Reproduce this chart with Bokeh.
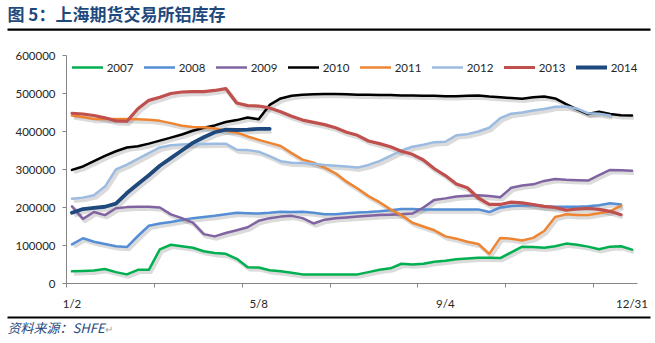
from bokeh.plotting import figure
from bokeh.models import (Range1d, FixedTicker, NumeralTickFormatter, Legend, LegendItem, LinearAxis)
from bokeh.core.properties import value
from bokeh.embed import file_html
from bokeh.resources import INLINE

# ---------------- data (thousand-ton values) ----------------
years = ["2007", "2008", "2009", "2010", "2011", "2012", "2013", "2014"]
x_labels = {0: "1/2", 17: "5/8", 34: "9/4", 51: "12/31"}
title_text = "图 5：上海期货交易所铝库存"
source_text = "资料来源：SHFE"

s2007 = [32, 33, 34, 38, 30, 24, 36, 36, 90, 102, 98, 94, 85, 80, 78, 65, 43, 42, 35, 32,
         28, 24, 24, 24, 24, 24, 24, 30, 36, 40, 52, 50, 52, 57, 60, 64, 66, 68, 68, 67,
         82, 97, 96, 94, 98, 105, 102, 97, 90, 97, 98, 89]
s2008 = [103, 119, 110, 104, 98, 96, 125, 152, 158, 162, 167, 172, 175, 178, 182, 186, 185, 184, 186, 189,
         188, 189, 186, 182, 182, 185, 187, 188, 190, 193, 196, 196, 195, 195, 195, 195, 195, 195, 188, 200,
         204, 205, 205, 203, 202, 202, 202, 203, 206, 211, 208]
s2009 = [203, 170, 188, 180, 198, 201, 202, 202, 200, 182, 172, 160, 130, 124, 133, 140, 148, 165, 172, 176,
         178, 172, 158, 168, 172, 174, 176, 178, 180, 181, 182, 184, 200, 220, 224, 229, 231, 232, 230, 227,
         252, 258, 261, 270, 275, 273, 272, 271, 285, 299, 298, 297]
s2010 = [299, 308, 322, 336, 348, 358, 361, 368, 376, 384, 392, 402, 410, 416, 425, 430, 437, 432, 470, 487,
         494, 497, 498, 499, 499, 498, 497, 497, 496, 496, 495, 495, 494, 494, 493, 493, 494, 495, 492, 490,
         488, 486, 490, 492, 487, 472, 458, 446, 452, 446, 443, 442]
s2011 = [442, 438, 433, 433, 433, 433, 432, 431, 428, 422, 415, 412, 411, 408, 402, 397, 387, 378, 370, 362,
         343, 326, 318, 305, 290, 268, 250, 230, 214, 195, 180, 160, 150, 140, 124, 118, 110, 104, 78, 120,
         118, 113, 120, 138, 175, 182, 180, 180, 185, 190, 205]
s2012 = [223, 226, 232, 255, 300, 313, 328, 343, 358, 364, 366, 367, 367, 368, 368, 352, 351, 347, 335, 322,
         318, 317, 315, 312, 310, 308, 305, 312, 322, 336, 350, 360, 365, 372, 373, 390, 393, 400, 410, 435,
         447, 450, 455, 459, 465, 466, 460, 448, 447, 442]
s2013 = [448, 446, 442, 436, 428, 427, 460, 482, 490, 500, 504, 505, 505, 508, 513, 475, 468, 467, 462, 452,
         440, 430, 424, 418, 410, 398, 390, 375, 368, 360, 348, 340, 325, 302, 284, 262, 252, 225, 208, 208,
         214, 212, 208, 203, 200, 193, 196, 198, 195, 190, 181]
s2014 = [186, 196, 199, 202, 210, 238, 262, 285, 310, 330, 350, 370, 385, 398, 405, 404, 405, 407, 407]

series = [s2007, s2008, s2009, s2010, s2011, s2012, s2013, s2014]
colors = ["#00B050", "#558ED5", "#8064A2", "#000000", "#EE8533", "#9BBBE0", "#C0504D", "#1F497D"]
widths = [2.5, 2.5, 2.5, 2.5, 2.5, 2.5, 3.2, 3.8]

FONT = "Lato"
CJK = "Noto Sans CJK SC"
W, H = 655, 343

# plot-area geometry (pixels): category axis from x=66 to 637, value axis from y=283 (0) to y=55 (600000)
PX_L, PX_R, PY_B, PY_T = 66.0, 637.0, 283.0, 55.0
kx = (PX_R - PX_L) / 52.0
ky = 600000.0 / (PY_B - PY_T)
x0 = -0.5 - PX_L / kx
x1 = 51.5 + (W - PX_R) / kx
y0 = -(H - PY_B) * ky
y1 = 600000 + PY_T * ky


def fx(px):
    return x0 + px / kx


def fy(py):
    return y1 - py * ky


p = figure(width=W, height=H, output_backend="svg", toolbar_location=None, title=None,
           x_axis_type=None, y_axis_type=None,
           x_range=Range1d(x0, x1), y_range=Range1d(y0, y1),
           min_border_left=0, min_border_right=0, min_border_top=0, min_border_bottom=0)
p.outline_line_color = None
p.xgrid.visible = False
p.ygrid.visible = False
p.background_fill_color = "white"

# shadows
for s, w in zip(series, widths):
    xs = [i + 0.18 for i in range(len(s))]
    ys = [v * 1000 - 2.3 * ky for v in s]
    p.line(xs, ys, line_color="#000000", line_alpha=0.14, line_width=w + 1.5, line_join="round")

renderers = []
for s, c, w in zip(series, colors, widths):
    xs = list(range(len(s)))
    ys = [v * 1000 for v in s]
    renderers.append(p.line(xs, ys, line_color=c, line_width=w, line_join="round", line_cap="round"))

# axes at fixed locations inside the full-canvas frame
yax = LinearAxis(fixed_location=-0.5, bounds=(0, 600000))
yax.ticker = FixedTicker(ticks=[0, 100000, 200000, 300000, 400000, 500000, 600000])
yax.formatter = NumeralTickFormatter(format="0")
yax.axis_line_color = "#868686"
yax.major_tick_line_color = "#868686"
yax.major_tick_out = 4
yax.major_tick_in = 0
yax.minor_tick_line_color = None
yax.major_label_text_font = FONT
yax.major_label_text_font_size = "11.5px"
yax.major_label_text_color = "#262626"
yax.major_label_standoff = 7
p.add_layout(yax, "left")

xax = LinearAxis(fixed_location=0, bounds=(-0.5, 51.5))
xax.ticker = FixedTicker(ticks=list(x_labels.keys()),
                         minor_ticks=[-0.5, 7.5, 15.5, 23.5, 31.5, 39.5, 47.5])
xax.major_label_overrides = x_labels
xax.axis_line_color = "#868686"
xax.major_tick_line_color = None
xax.major_tick_out = 0
xax.major_tick_in = 0
xax.minor_tick_line_color = "#868686"
xax.minor_tick_out = 4
xax.minor_tick_in = 0
xax.major_label_text_font = FONT
xax.major_label_text_font_size = "11.5px"
xax.major_label_text_color = "#262626"
xax.major_label_standoff = 9
p.add_layout(xax, "below")

legend = Legend(items=[LegendItem(label=y, renderers=[r]) for y, r in zip(years, renderers)],
                orientation="horizontal", location=(71.7, H - 60.3 - 14),
                glyph_width=31, glyph_height=14, label_height=14, label_width=31,
                label_standoff=4, spacing=6, padding=0, margin=0,
                label_text_font=FONT, label_text_font_size="11.5px", label_text_color="#262626",
                background_fill_alpha=0, border_line_color=None)
p.add_layout(legend, "center")

# title, rules and source
p.text(x=[fx(7)], y=[fy(13)], text=[title_text], text_font=value(CJK), text_font_style="bold",
       text_font_size="17px", text_color="#1F497D", text_baseline="middle", text_align="left")
p.line(x=[fx(7), fx(650)], y=[fy(29.2), fy(29.2)], line_color="black", line_width=2.2)
p.line(x=[fx(7), fx(650)], y=[fy(317), fy(317)], line_color="black", line_width=2.2)
p.text(x=[fx(7)], y=[fy(327)], text=[source_text], text_font=value(CJK), text_font_style="italic",
       text_font_size="13px", text_color="#1F497D", text_baseline="middle", text_align="left")
p.text(x=[fx(104)], y=[fy(328)], text=["↵"], text_font=value(CJK),
       text_font_size="10px", text_color="#A6A6A6", text_baseline="middle", text_align="left")

open("out.html", "w").write(file_html(p, INLINE))
